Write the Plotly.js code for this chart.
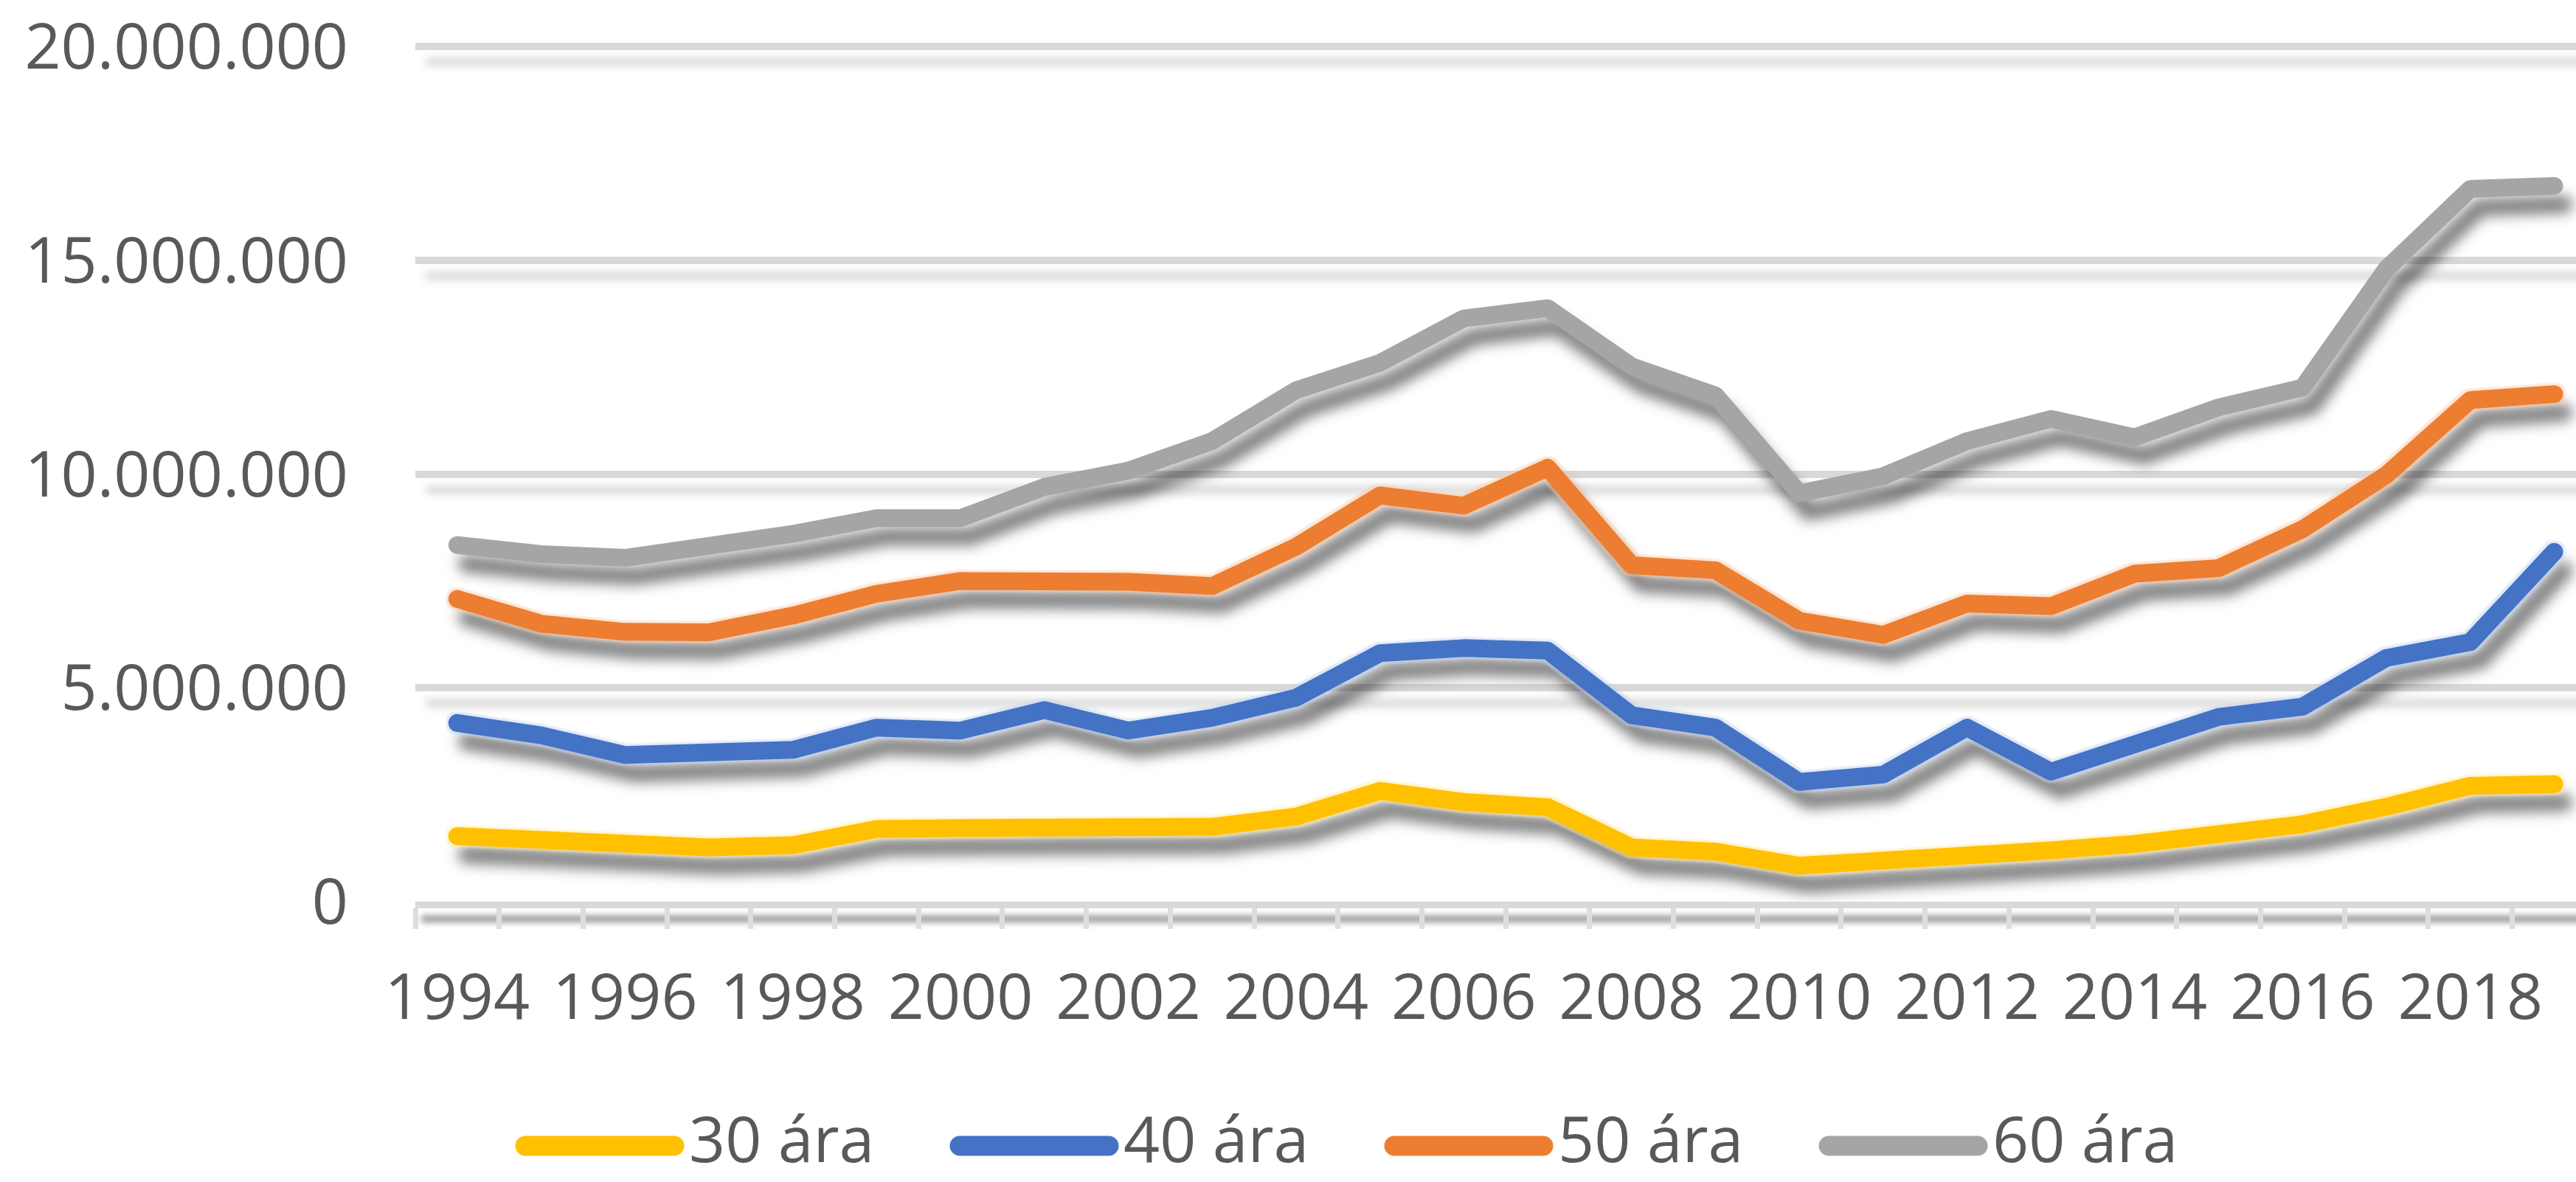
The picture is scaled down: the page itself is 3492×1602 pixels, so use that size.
<!DOCTYPE html>
<html>
<head>
<meta charset="utf-8">
<script src="https://cdn.plot.ly/plotly-3.0.1.min.js"></script>
<style>
  html, body { margin: 0; padding: 0; background: #ffffff; }
  #chart { width: 3492px; height: 1602px; }
</style>
</head>
<body>
<div id="chart"></div>
<script>
// ---- Data ----
const years = [1994, 1995, 1996, 1997, 1998, 1999, 2000, 2001, 2002, 2003, 2004, 2005, 2006,
               2007, 2008, 2009, 2010, 2011, 2012, 2013, 2014, 2015, 2016, 2017, 2018, 2019];

const seriesNames = ["30 ára", "40 ára", "50 ára", "60 ára"];

const age30 = [1530000, 1430000, 1350000, 1270000, 1320000, 1700000, 1720000, 1750000, 1750000,
               1750000, 1990000, 2590000, 2330000, 2210000, 1270000, 1170000, 840000, 940000,
               1080000, 1200000, 1350000, 1550000, 1810000, 2220000, 2710000, 2750000];

const age40 = [4180000, 3890000, 3430000, 3530000, 3550000, 4070000, 4000000, 4480000, 4000000,
               4300000, 4770000, 5810000, 5930000, 5870000, 4360000, 4070000, 2800000, 2970000,
               4070000, 3040000, 3670000, 4320000, 4560000, 5700000, 6070000, 8180000];

const age50 = [7080000, 6500000, 6310000, 6300000, 6690000, 7200000, 7500000, 7500000, 7480000,
               7380000, 8300000, 9500000, 9260000, 10150000, 7870000, 7750000, 6570000, 6240000,
               6970000, 6910000, 7670000, 7800000, 8710000, 9980000, 11730000, 11870000];

const age60 = [8340000, 8130000, 8040000, 8270000, 8600000, 8970000, 8970000, 9700000, 10080000,
               10770000, 11960000, 12600000, 13640000, 13880000, 12520000, 11840000, 9550000, 9950000,
               10770000, 11290000, 10860000, 11560000, 12020000, 14800000, 16670000, 16740000];

const yTickVals = [0, 5000000, 10000000, 15000000, 20000000];

// ---- Styles ----
const seriesValues = [age30, age40, age50, age60];
const colors = ["#FFC000", "#4472C4", "#ED7D31", "#A5A5A5"];
const fontFamily = "'Open Sans', 'Noto Sans', 'DejaVu Sans', sans-serif";
const textColor = "#595959";

const W = 3492, H = 1602;
const M = { l: 563, r: 0, t: 40, b: 380 };
const plotW = W - M.l - M.r, plotH = H - M.t - M.b;
const yTopPx = 63;                       // pixel row of the 20.000.000 gridline
const yMax = 20000000 * plotH / (H - M.b - yTopPx);
const px2paperX = px => (px - M.l) / plotW;
const px2paperY = py => (H - M.b - py) / plotH;

const traces = seriesValues.map((vals, i) => ({
  type: "scatter",
  mode: "lines",
  name: seriesNames[i],
  x: years,
  y: vals,
  line: { color: colors[i], width: 24, shape: "linear" },
  hoverinfo: "skip"
}));

// custom legend (long line symbols like the reference)
const legendShapes = [];
const legendAnnotations = [];
const legStart = 699, legStep = 589, legSym = 228, legSymY = 1553;
seriesNames.forEach((name, i) => {
  const x0 = legStart + i * legStep;
  legendShapes.push({
    type: "line", xref: "paper", yref: "paper",
    x0: px2paperX(x0 + 13), x1: px2paperX(x0 + legSym - 13),
    y0: px2paperY(legSymY), y1: px2paperY(legSymY),
    line: { color: colors[i], width: 27 }
  });
  legendAnnotations.push({
    xref: "paper", yref: "paper",
    x: px2paperX(x0 + legSym + 6), y: px2paperY(1601),
    xanchor: "left", yanchor: "bottom",
    text: name, showarrow: false, borderpad: 0,
    font: { family: fontFamily, size: 86, color: textColor }
  });
});

const layout = {
  width: W, height: H,
  margin: { l: M.l, r: M.r, t: M.t, b: M.b, pad: 0 },
  paper_bgcolor: "#ffffff",
  plot_bgcolor: "#ffffff",
  showlegend: false,
  separators: ",.",
  font: { family: fontFamily, size: 86, color: textColor },
  xaxis: {
    type: "linear",
    range: [1993.5, 2019.26],
    tick0: 1994, dtick: 2,
    ticks: "",
    showgrid: false, zeroline: false,
    showline: true, linecolor: "#D9D9D9", linewidth: 9,
    minor: { tick0: 1993.5, dtick: 1, ticks: "outside", ticklen: 28, tickwidth: 7,
             tickcolor: "#DDDDDD", showgrid: false },
    ticklabelstandoff: 47,
    tickfont: { family: fontFamily, size: 86, color: textColor },
    fixedrange: true
  },
  yaxis: {
    range: [0, yMax],
    tickmode: "array",
    tickvals: yTickVals,
    tickformat: ",d",
    ticks: "",
    showgrid: true, gridcolor: "#D9D9D9", gridwidth: 10,
    zeroline: false, showline: false,
    ticklabelstandoff: 90,
    tickfont: { family: fontFamily, size: 86, color: textColor },
    fixedrange: true
  },
  shapes: legendShapes,
  annotations: legendAnnotations
};

Plotly.newPlot("chart", traces, layout, { displayModeBar: false, staticPlot: true }).then(gd => {
  const NS = "http://www.w3.org/2000/svg";
  const svg = gd.querySelector("svg.main-svg");
  const defs = document.createElementNS(NS, "defs");
  svg.insertBefore(defs, svg.firstChild);

  function makeFilter(id, dx, dy, std, opacity, glowColor) {
    const f = document.createElementNS(NS, "filter");
    f.setAttribute("id", id);
    f.setAttribute("filterUnits", "userSpaceOnUse");
    f.setAttribute("x", "-2000"); f.setAttribute("y", "-2000");
    f.setAttribute("width", "8000"); f.setAttribute("height", "6000");
    f.setAttribute("color-interpolation-filters", "sRGB");
    let html =
      `<feGaussianBlur in="SourceAlpha" stdDeviation="${std}" result="b"/>` +
      `<feOffset in="b" dx="${dx}" dy="${dy}" result="o"/>` +
      `<feFlood flood-color="#000000" flood-opacity="${opacity}" result="c"/>` +
      `<feComposite in="c" in2="o" operator="in" result="shadow"/>`;
    if (glowColor) {
      html +=
        `<feMorphology in="SourceAlpha" operator="dilate" radius="2.5" result="d"/>` +
        `<feGaussianBlur in="d" stdDeviation="1" result="db"/>` +
        `<feFlood flood-color="${glowColor}" flood-opacity="0.5" result="gc"/>` +
        `<feComposite in="gc" in2="db" operator="in" result="glow"/>` +
        `<feMerge><feMergeNode in="shadow"/><feMergeNode in="glow"/><feMergeNode in="SourceGraphic"/></feMerge>`;
    } else {
      html += `<feMerge><feMergeNode in="shadow"/><feMergeNode in="SourceGraphic"/></feMerge>`;
    }
    f.innerHTML = html;
    defs.appendChild(f);
  }

  const glows = ["#FFE79A", "#BFD3F2", "#F9C9A6", null];
  colors.forEach((c, i) => makeFilter("lineShadow" + i, 13, 25, 9, 0.5, glows[i]));
  makeFilter("gridShadow", 14, 21, 6, 0.17, null);
  makeFilter("axisShadow", 8, 19, 4, 0.42, null);

  gd.querySelectorAll("g.scatterlayer g.trace").forEach((g, i) => {
    g.querySelectorAll("path.js-line").forEach(p => {
      p.setAttribute("filter", `url(#lineShadow${i})`);
      p.style.strokeLinejoin = "round";
      p.style.strokeLinecap = "round";
    });
  });
  gd.querySelectorAll("path.ygrid").forEach(p => p.setAttribute("filter", "url(#gridShadow)"));
  gd.querySelectorAll("path.xlines-above, path.xlines-below").forEach(p => p.setAttribute("filter", "url(#axisShadow)"));
  gd.querySelectorAll("g.shapelayer path").forEach(p => {
    p.style.strokeLinecap = "round";
  });
});
</script>
</body>
</html>
